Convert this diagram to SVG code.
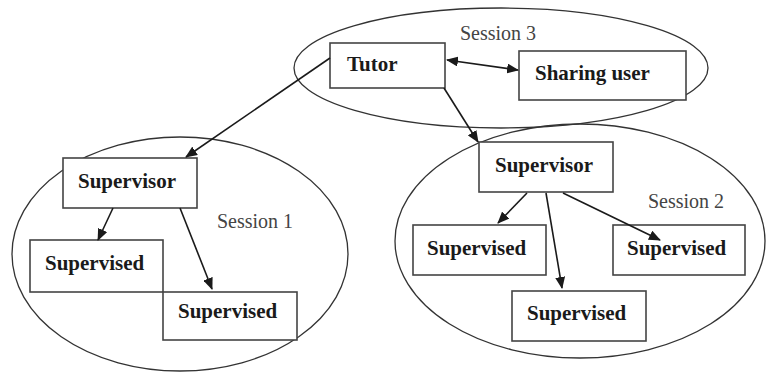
<svg xmlns="http://www.w3.org/2000/svg" width="768" height="374" viewBox="0 0 768 374">
<style>
.sess{fill:none;stroke:#333;stroke-width:1.3}
.box{fill:#fff;stroke:#444;stroke-width:1.6}
.lbl{font-family:"Liberation Serif","Times New Roman",serif;font-weight:bold;font-size:21px;fill:#1a1a1a}
.stxt{font-family:"Liberation Serif","Times New Roman",serif;font-size:20px;fill:#444}
.con{stroke:#1a1a1a;stroke-width:1.6;fill:none}
</style>
<defs>
<marker id="ah" markerWidth="12" markerHeight="10" refX="11" refY="5" orient="auto" markerUnits="userSpaceOnUse">
<path d="M0,0 L12,5 L0,10 Z" fill="#1a1a1a"/>
</marker>
<marker id="ahs" markerWidth="12" markerHeight="10" refX="1" refY="5" orient="auto" markerUnits="userSpaceOnUse">
<path d="M12,0 L0,5 L12,10 Z" fill="#1a1a1a"/>
</marker>
</defs>
<rect width="768" height="374" fill="#fff"/>
<g id="sessions">
<ellipse class="sess" cx="501" cy="68" rx="207" ry="60"/>
<ellipse class="sess" cx="180" cy="254" rx="168" ry="117"/>
<ellipse class="sess" cx="580" cy="241" rx="185" ry="117"/>
<text class="stxt" x="498" y="40" text-anchor="middle">Session 3</text>
<text class="stxt" x="255" y="228" text-anchor="middle">Session 1</text>
<text class="stxt" x="686" y="208" text-anchor="middle">Session 2</text>
</g>
<g id="tutor"><rect class="box" x="330" y="43" width="115" height="45"/><text class="lbl" x="347" y="71">Tutor</text></g>
<g id="sharing"><rect class="box" x="519" y="51" width="167" height="49"/><text class="lbl" x="535" y="80">Sharing user</text></g>
<g id="supervisor1"><rect class="box" x="63" y="158" width="134" height="50"/><text class="lbl" x="78" y="188">Supervisor</text></g>
<g id="supervised1a"><rect class="box" x="30" y="240" width="133" height="52"/><text class="lbl" x="45" y="270">Supervised</text></g>
<g id="supervised1b"><rect class="box" x="163" y="292" width="134" height="48"/><text class="lbl" x="178" y="318">Supervised</text></g>
<g id="supervisor2"><rect class="box" x="479" y="142" width="134" height="50"/><text class="lbl" x="495" y="172">Supervisor</text></g>
<g id="supervised2a"><rect class="box" x="413" y="225" width="133" height="50"/><text class="lbl" x="427" y="255">Supervised</text></g>
<g id="supervised2b"><rect class="box" x="613" y="225" width="132" height="50"/><text class="lbl" x="627" y="255">Supervised</text></g>
<g id="supervised2c"><rect class="box" x="512" y="291" width="134" height="50"/><text class="lbl" x="527" y="320">Supervised</text></g>
<g id="connectors">
<line class="con" x1="447" y1="60" x2="518" y2="70" marker-start="url(#ahs)" marker-end="url(#ah)"/>
<line class="con" x1="330" y1="58" x2="186" y2="157" marker-end="url(#ah)"/>
<line class="con" x1="444" y1="88" x2="478" y2="142" marker-end="url(#ah)"/>
<line class="con" x1="113" y1="208" x2="98" y2="240" marker-end="url(#ah)"/>
<line class="con" x1="180" y1="208" x2="212" y2="289" marker-end="url(#ah)"/>
<line class="con" x1="527" y1="193" x2="498" y2="223" marker-end="url(#ah)"/>
<line class="con" x1="546" y1="193" x2="562" y2="288" marker-end="url(#ah)"/>
<line class="con" x1="563" y1="193" x2="660" y2="240" marker-end="url(#ah)"/>
</g>
</svg>
